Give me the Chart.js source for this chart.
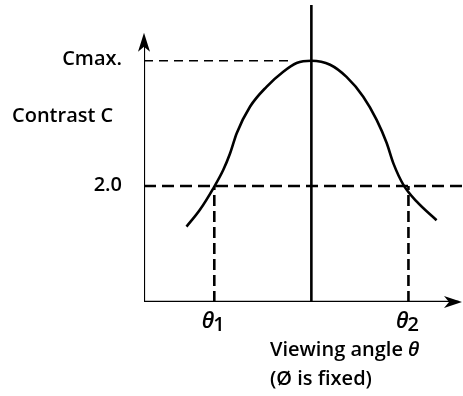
<!DOCTYPE html>
<html><head><meta charset="utf-8">
<script src="https://cdn.jsdelivr.net/npm/chart.js@4"></script>
<style>html,body{margin:0;padding:0;background:#fff}#wrap{width:463px;height:396px}</style>
</head><body><div id="wrap"><canvas id="c" width="463" height="396"></canvas></div>
<script>
// Contrast curve (x: viewing angle, arbitrary units centred on the normal; y: contrast)
const curveX = [-37.3, -33.3, -29.3, -26.3, -24.3, -22.3, -18.3, -13.4, -8.4, -4.4, 0, 5.6, 10.5, 15.5, 19.5, 22.5, 24.5, 27.5, 31.5, 37.4];
const curveY = [1.30, 1.59, 1.96, 2.28, 2.56, 2.91, 3.37, 3.71, 3.97, 4.12, 4.16, 4.09, 3.88, 3.54, 3.14, 2.74, 2.39, 2.02, 1.73, 1.41];
const levelValues = [4.16, 2.0];
const levelLabels = ['Cmax.', '2.0'];
const thetaValues = [-29, 29];
const thetaLabels = ['θ1', 'θ2'];
const xMin = -50, xMax = 45, yMin = 0, yMax = 5.12, yArrowTop = 4.64;

const pts = curveX.map((x, i) => ({x, y: curveY[i]}));
const lineDs = (data, w, dash) => ({data, showLine: true, borderColor: '#000', borderWidth: w, borderDash: dash || [], pointRadius: 0, fill: false, tension: 0});

const datasets = [
  {data: pts, showLine: true, borderColor: '#000', borderWidth: 2.6, pointRadius: 0, cubicInterpolationMode: 'monotone'},
  lineDs([{x: xMin, y: levelValues[0]}, {x: -6.5, y: levelValues[0]}], 1.6, [9, 6]),
  lineDs([{x: xMin, y: levelValues[1]}, {x: xMax, y: levelValues[1]}], 2.6, [12, 6]),
  lineDs([{x: thetaValues[0], y: 0}, {x: thetaValues[0], y: levelValues[1]}], 2.6, [11, 5]),
  lineDs([{x: thetaValues[1], y: 0}, {x: thetaValues[1], y: levelValues[1]}], 2.6, [11, 5]),
  lineDs([{x: 0, y: 0}, {x: 0, y: yMax}], 2.6),
  lineDs([{x: xMin, y: 0}, {x: xMin, y: yArrowTop - 0.2}], 2.2),
  lineDs([{x: xMin, y: 0}, {x: xMax - 1, y: 0}], 2.6)
];

const FONT = '600 20px "Open Sans", sans-serif';
const deco = {
  id: 'deco',
  afterDatasetsDraw(chart) {
    const {ctx, scales: {x, y}} = chart;
    ctx.save();
    ctx.fillStyle = '#000';
    // arrow heads
    const ax = x.getPixelForValue(xMin), at = y.getPixelForValue(yArrowTop);
    ctx.beginPath(); ctx.moveTo(ax, at); ctx.lineTo(ax - 6, at + 19); ctx.lineTo(ax, at + 14); ctx.lineTo(ax + 6, at + 19); ctx.closePath(); ctx.fill();
    const rx = x.getPixelForValue(xMax), ry = y.getPixelForValue(0);
    ctx.beginPath(); ctx.moveTo(rx, ry); ctx.lineTo(rx - 18, ry - 6); ctx.lineTo(rx - 13, ry); ctx.lineTo(rx - 18, ry + 6); ctx.closePath(); ctx.fill();
    // level labels
    ctx.font = FONT; ctx.textAlign = 'right'; ctx.textBaseline = 'middle';
    levelLabels.forEach((t, i) => ctx.fillText(t, ax - 22, y.getPixelForValue(levelValues[i]) - 1));
    ctx.textAlign = 'left';
    ctx.fillText('Contrast C', 12, y.getPixelForValue(3.2));
    // theta labels
    thetaLabels.forEach((t, i) => {
      const px = x.getPixelForValue(thetaValues[i]);
      ctx.font = 'italic 600 22px "Open Sans", sans-serif'; ctx.textAlign = 'right'; ctx.textBaseline = 'alphabetic';
      ctx.fillText(t[0], px, ry + 26);
      ctx.font = FONT; ctx.textAlign = 'left';
      ctx.fillText(t.slice(1), px - 1, ry + 29);
    });
    ctx.font = FONT; ctx.textAlign = 'left'; ctx.textBaseline = 'middle';
    const vx = 270;
    ctx.fillText('Viewing angle ', vx, ry + 48);
    const w = ctx.measureText('Viewing angle ').width;
    ctx.font = 'italic 600 20px "Open Sans", sans-serif';
    ctx.fillText('θ', vx + w, ry + 48);
    ctx.font = FONT;
    ctx.fillText('(Ø is fixed)', vx, ry + 77);
    ctx.restore();
  }
};

new Chart(document.getElementById('c'), {
  type: 'scatter',
  data: {datasets},
  options: {
    responsive: false, animation: false, events: [],
    layout: {padding: {left: 144, right: 1, top: 5, bottom: 94}},
    plugins: {legend: {display: false}, tooltip: {enabled: false}},
    scales: {
      x: {type: 'linear', min: xMin, max: xMax, display: false},
      y: {type: 'linear', min: yMin, max: yMax, display: false}
    }
  },
  plugins: [deco]
});
</script></body></html>
